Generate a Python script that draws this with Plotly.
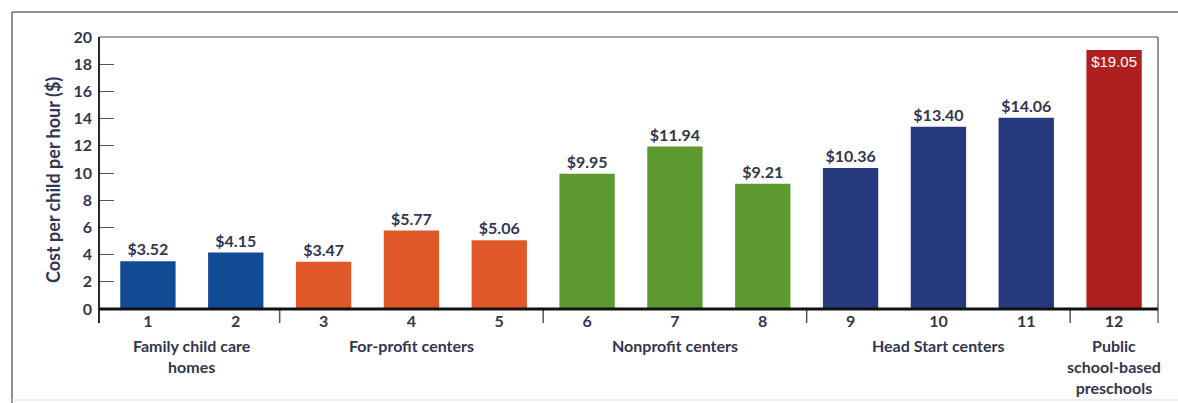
import plotly.graph_objects as go

categories = ["1", "2", "3", "4", "5", "6", "7", "8", "9", "10", "11", "12"]
values = [3.52, 4.15, 3.47, 5.77, 5.06, 9.95, 11.94, 9.21, 10.36, 13.40, 14.06, 19.05]
value_labels = ["$3.52", "$4.15", "$3.47", "$5.77", "$5.06", "$9.95", "$11.94",
                "$9.21", "$10.36", "$13.40", "$14.06", "$19.05"]
bar_colors = ["#124a93", "#124a93", "#e0582a", "#e0582a", "#e0582a",
              "#5c9a30", "#5c9a30", "#5c9a30", "#243a7c", "#243a7c", "#243a7c", "#b01f1f"]
groups = ["Family child care<br>homes", "For-profit centers", "Nonprofit centers",
          "Head Start centers", "Public<br>school-based<br>preschools"]
group_centers = [0.5, 3, 6, 9, 11]
separators = [1.5, 4.5, 7.5, 10.5]
y_ticks = list(range(0, 21, 2))

TXT = "#33364f"
FONT = "Lato"

W, H = 1178, 403
L, R, T, B = 99, 1158, 37, 309
xr = [-0.557, 11.5]

xpos = list(range(12))
fig = go.Figure()
fig.add_trace(go.Bar(
    x=xpos[:11], y=values[:11], marker_color=bar_colors[:11], marker_line_width=0,
    text=value_labels[:11], textposition="outside", cliponaxis=False,
    textfont=dict(family=FONT, size=16, color=TXT, weight="bold"),
    width=0.63, hoverinfo="skip"))
fig.add_trace(go.Bar(
    x=xpos[11:], y=values[11:], marker_color=bar_colors[11:], marker_line_width=0,
    text=value_labels[11:], textposition="inside", insidetextanchor="end",
    textfont=dict(family="Liberation Sans", size=15, color="white"),
    width=0.63, hoverinfo="skip"))

def px_x(p):
    return (p - L) / (R - L)

def px_y(p):
    return (B - p) / (B - T)

shapes = []
# plot frame: top and right
shapes.append(dict(type="line", xref="paper", yref="paper", x0=0, x1=1, y0=1, y1=1,
                   line=dict(color="#4a4a4a", width=1.2)))
shapes.append(dict(type="line", xref="paper", yref="paper", x0=1, x1=1, y0=px_y(323), y1=1,
                   line=dict(color="#4a4a4a", width=1.2)))
# y axis line extended down
shapes.append(dict(type="line", xref="paper", yref="paper", x0=0, x1=0, y0=px_y(323), y1=1,
                   line=dict(color="#2a2238", width=2)))
# separators
for s in separators:
    shapes.append(dict(type="line", xref="x", yref="paper", x0=s, x1=s, y0=px_y(323), y1=0,
                       line=dict(color="#555555", width=1.5)))
# baseline
shapes.append(dict(type="line", xref="paper", yref="paper", x0=0, x1=1, y0=0, y1=0,
                   line=dict(color="#111111", width=3)))
# outer frame
shapes.append(dict(type="line", xref="paper", yref="paper", x0=px_x(12), x1=px_x(W), y0=px_y(12), y1=px_y(12),
                   line=dict(color="#6e6e6e", width=1.5)))
shapes.append(dict(type="line", xref="paper", yref="paper", x0=px_x(12), x1=px_x(12), y0=px_y(12), y1=px_y(H),
                   line=dict(color="#6e6e6e", width=1.5)))
shapes.append(dict(type="line", xref="paper", yref="paper", x0=px_x(12), x1=px_x(W), y0=px_y(400), y1=px_y(400),
                   line=dict(color="#dddddd", width=1)))

annotations = []
for g, c in zip(groups, group_centers):
    annotations.append(dict(x=c, y=px_y(334), xref="x", yref="paper", text=g, showarrow=False,
                            yanchor="top", xanchor="center", align="center",
                            font=dict(family=FONT, size=16, color=TXT, weight="bold")))
annotations.append(dict(x=px_x(40), y=px_y(180), xref="paper", yref="paper",
                        text="Cost per child per hour ($)", textangle=-90, showarrow=False,
                        font=dict(family=FONT, size=18, color=TXT, weight="bold")))

fig.update_layout(
    width=W, height=H, margin=dict(l=L, r=W - R, t=T, b=H - B),
    paper_bgcolor="white", plot_bgcolor="white", barmode="overlay", showlegend=False,
    shapes=shapes, annotations=annotations,
    xaxis=dict(range=xr, tickmode="array", tickvals=xpos, ticktext=categories,
               showgrid=False, zeroline=False, showline=False, ticks="",
               tickfont=dict(family=FONT, size=16, color=TXT, weight="bold"),
               ticklabelstandoff=1),
    yaxis=dict(range=[0, 20], tickmode="array", tickvals=y_ticks, showgrid=False, zeroline=False,
               showline=False, ticks="inside", ticklen=15, tickcolor="#555555", tickwidth=1,
               tickfont=dict(family=FONT, size=16, color=TXT, weight="bold"),
               ticklabelstandoff=6),
)
fig.write_html("out.html")
